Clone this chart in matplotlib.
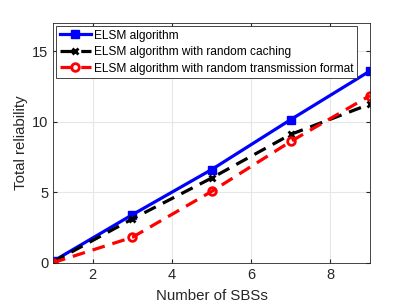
import matplotlib
matplotlib.use('Agg')
import matplotlib.pyplot as plt

plt.rcParams['font.family'] = ['Liberation Sans', 'DejaVu Sans']

num_sbs = [1, 3, 5, 7, 9]
elsm = [0.1, 3.4, 6.6, 10.15, 13.6]
elsm_random_caching = [0.05, 3.1, 6.0, 9.1, 11.25]
elsm_random_format = [0.0, 1.8, 5.05, 8.6, 11.85]

fig = plt.figure(figsize=(4.09, 3.07), dpi=100)
ax = fig.add_axes([53 / 409, 1 - 262.7 / 307, 317 / 409, 239.7 / 307])

ax.plot(num_sbs, elsm, color='#0000ff', lw=2.3, marker='s', ms=6,
        label='ELSM algorithm')
ax.plot(num_sbs, elsm_random_caching, color='black', lw=2.3, ls=(0, (4, 2.5)),
        marker='x', ms=5, mew=2, label='ELSM algorithm with random caching')
ax.plot(num_sbs, elsm_random_format, color='#ff0000', lw=2.3, ls=(0, (4, 2.5)),
        marker='o', ms=5.5, mfc='none', mew=2,
        label='ELSM algorithm with random transmission format')

ax.set_xlim(1, 9)
ax.set_ylim(0, 17)
ax.set_xticks([2, 4, 6, 8])
ax.set_yticks([0, 5, 10, 15])
ax.grid(True, color='#e6e6e6', lw=0.8)
ax.set_axisbelow(True)
ax.tick_params(direction='in', length=3, labelsize=10.5, colors='#262626',
               top=True, right=True)
for s in ax.spines.values():
    s.set_color('#262626')
    s.set_linewidth(0.6)

ax.set_xlabel('Number of SBSs', fontsize=10.8, color='#262626', labelpad=5)
ax.set_ylabel('Total reliability', fontsize=10.8, color='#262626', labelpad=3)

leg = ax.legend(loc='upper left', fontsize=8.6, frameon=True, fancybox=False,
                borderaxespad=0.25, handlelength=2.6, handletextpad=0.3,
                labelspacing=0.38, borderpad=0.3)
leg.get_frame().set_edgecolor('#262626')
leg.get_frame().set_linewidth(0.6)
leg.get_frame().set_alpha(1)

fig.savefig('out.png', dpi=100)
